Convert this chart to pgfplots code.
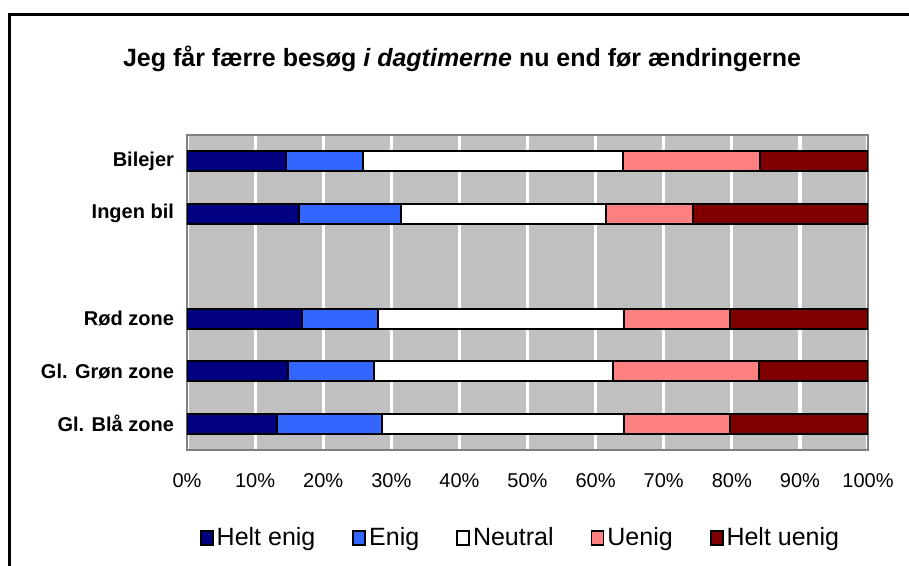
\documentclass[border=0pt]{standalone}
\usepackage{fontspec}
\setmainfont{Liberation Sans}
\usepackage{pgfplots}
\pgfplotsset{compat=1.18}

\definecolor{heltenig}{HTML}{000080}
\definecolor{enig}{HTML}{3366FF}
\definecolor{uenig}{HTML}{FF8080}
\definecolor{heltuenig}{HTML}{800000}
\definecolor{plotgray}{HTML}{C0C0C0}
\definecolor{axisgray}{HTML}{808080}

\begin{document}
\begin{tikzpicture}
% 1 px of the reference = 0.5pt
\useasboundingbox (0,0) rectangle (454.5pt,-283pt);
\draw[line width=1.5pt] (4.5pt,-290pt) -- (4.5pt,-7.5pt) -- (460pt,-7.5pt);
\node[font=\bfseries\fontsize{12.5}{14}\selectfont] at (231pt,-29.5pt)
  {Jeg får færre besøg \textit{i dagtimerne} nu end før ændringerne};

\begin{axis}[
    at={(93.5pt,-225pt)}, anchor=south west,
    scale only axis, width=340.5pt, height=157.5pt,
    xbar stacked, bar width=10pt,
    xmin=0, xmax=100, ymin=-0.5, ymax=5.5, y dir=reverse,
    ytick={0,1,3,4,5},
    yticklabels={Bilejer, Ingen bil, Rød zone, Gl. Grøn zone, Gl. Blå zone},
    yticklabel style={font=\bfseries\fontsize{10}{12}\selectfont, xshift=-3pt},
    xtick={0,10,...,100},
    xticklabel={\pgfmathprintnumber{\tick}\%},
    xticklabel style={font=\fontsize{10}{12}\selectfont, yshift=-8pt},
    /pgf/number format/assume math mode=true,
    tick style={draw=none},
    axis background/.style={fill=plotgray},
    xmajorgrids, grid style={white, line width=1.6pt},
    axis line style={draw=axisgray, line width=1pt},
    every axis plot/.append style={draw=black, line width=1pt},
    legend image code/.code={\draw[#1, line width=0.9pt] (0pt,-3.6pt) rectangle (6pt,3.6pt);},
    legend columns=5,
    legend style={at={(0.4905,-0.279)}, anchor=center, draw=none, fill=none,
        font=\fontsize{12.5}{14}\selectfont,
        nodes={inner xsep=1.5pt},
        /tikz/every even column/.append style={column sep=17pt},
        /tikz/every odd column/.append style={column sep=0pt}},
]
\addplot[fill=heltenig] coordinates {(14.6,0) (16.4,1) (16.9,3) (14.9,4) (13.2,5)};
\addplot[fill=enig] coordinates {(11.2,0) (15.0,1) (11.2,3) (12.5,4) (15.4,5)};
\addplot[fill=white] coordinates {(38.2,0) (30.1,1) (36.0,3) (35.1,4) (35.6,5)};
\addplot[fill=uenig] coordinates {(20.1,0) (12.8,1) (15.6,3) (21.5,4) (15.5,5)};
\addplot[fill=heltuenig] coordinates {(15.9,0) (25.7,1) (20.3,3) (16.0,4) (20.3,5)};
\legend{Helt enig, Enig, Neutral, Uenig, Helt uenig}
\end{axis}
\end{tikzpicture}
\end{document}
